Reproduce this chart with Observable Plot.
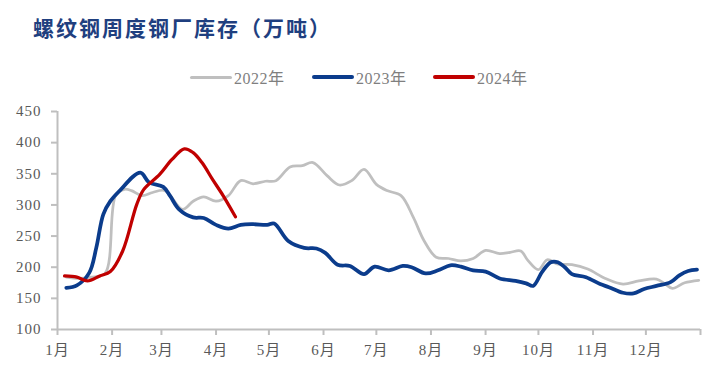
<!DOCTYPE html>
<html>
<head>
<meta charset="utf-8">
<script src="https://cdn.jsdelivr.net/npm/d3@7"></script>
<script src="https://cdn.jsdelivr.net/npm/@observablehq/plot@0.6"></script>
<style>
  html, body { margin: 0; padding: 0; background: #fff; }
  #wrap { position: relative; width: 719px; height: 389px; overflow: hidden; }
  #title { position: absolute; left: 33px; top: 17px; font-family: "Noto Sans CJK SC", sans-serif; font-weight: 700; font-size: 21px; line-height: 21px; letter-spacing: 2px; color: #1F3F7F; white-space: nowrap; }
  .leg { position: absolute; top: 68px; height: 18px; display: flex; align-items: center; font-family: "Liberation Serif", "Times New Roman", "DejaVu Serif", "Noto Sans CJK SC", serif; font-size: 16px; color: #7F7F7F; letter-spacing: 0.5px; white-space: nowrap; }
  .leg .sw { display: inline-block; width: 42px; border-radius: 2px; margin-right: 2px; }
  #chart { position: absolute; left: 0; top: 95px; }
  #chart [aria-label="x-axis tick"], #chart [aria-label="y-axis tick"] { stroke: #BFBFBF; stroke-width: 2px; }
  #chart [aria-label="x-axis tick label"], #chart [aria-label="y-axis tick label"] { fill: #595959; letter-spacing: 1px; }
</style>
</head>
<body>
<div id="wrap">
  <div id="title">螺纹钢周度钢厂库存（万吨）</div>
  <div class="leg" style="left:190px"><span class="sw" style="background:#BFBFBF;height:3px"></span>2022年</div>
  <div class="leg" style="left:312px"><span class="sw" style="background:#0B3C8C;height:4px"></span>2023年</div>
  <div class="leg" style="left:433px"><span class="sw" style="background:#C00000;height:4px"></span>2024年</div>
  <div id="chart"></div>
</div>
<script>
// ---- data (dates as MM-DD on a common year axis, values in 万吨) ----
const dates2022 = ["01-06","01-13","01-20","01-28","02-03","02-08","02-12","02-18","02-24","03-03","03-13","03-19","03-25","04-01","04-08","04-15","04-22","04-29","05-05","05-13","05-20","05-26","06-03","06-10","06-17","06-24","07-01","07-07","07-15","07-22","07-28","08-04","08-11","08-18","08-25","09-01","09-09","09-15","09-21","09-25","10-01","10-06","10-12","10-20","10-29","11-08","11-18","11-27","12-07","12-12","12-16","12-23","12-31"];
const values2022 = [184,182,184,190,315,325,323,315,320,323,293,306,313,306,315,339,334,338,339,361,363,368,347,332,339,357,333,323,315,280,243,216,214,210,214,227,222,224,226,211,196,212,205,204,197,182,173,178,181,173,166,175,179];

const dates2023 = ["01-06","01-12","01-19","01-23","01-27","01-31","02-05","02-17","02-22","03-02","03-06","03-11","03-19","03-25","04-01","04-08","04-15","04-22","04-30","05-04","05-12","05-21","05-28","06-02","06-09","06-16","06-24","06-30","07-08","07-16","07-21","07-29","08-05","08-12","08-18","08-25","09-01","09-09","09-18","09-24","09-28","10-03","10-08","10-12","10-16","10-20","10-28","11-05","11-10","11-18","11-24","11-30","12-07","12-15","12-20","12-25","12-30"];
const values2023 = [167,171,191,231,285,306,322,352,336,329,314,293,280,279,268,262,268,269,268,270,242,231,230,223,204,202,189,201,195,202,200,190,195,203,201,195,193,182,178,174,170,192,208,208,200,189,184,173,168,159,158,165,170,176,187,194,196];

const dates2024 = ["01-05","01-12","01-18","01-25","01-31","02-07","02-15","02-19","02-28","03-07","03-14","03-19","03-24","03-30","04-05","04-12"];
const values2024 = [186,184,178,186,193,226,301,325,349,373,390,384,368,341,315,281];

const seriesNames = ["2022年","2023年","2024年"];
const monthLabels = ["1月","2月","3月","4月","5月","6月","7月","8月","9月","10月","11月","12月"];
const yTicks = [100,150,200,250,300,350,400,450];

// ---- build rows ----
const parse = d3.utcParse("%Y-%m-%d");
const toRows = (dates, values, name) => dates.map((d, i) => ({date: parse("2023-" + d), value: values[i], series: name}));
const rows2022 = toRows(dates2022, values2022, seriesNames[0]);
const rows2023 = toRows(dates2023, values2023, seriesNames[1]);
const rows2024 = toRows(dates2024, values2024, seriesNames[2]);

const x0 = new Date(Date.UTC(2023, 0, 1));
const x1 = new Date(Date.UTC(2024, 0, 1));
const monthTicks = d3.utcMonth.range(x0, new Date(Date.UTC(2024, 0, 2)));

const chart = Plot.plot({
  width: 719,
  height: 270,
  marginTop: 16,
  marginBottom: 36,
  marginLeft: 57,
  marginRight: 19,
  style: {fontSize: "15px", fontFamily: "'Liberation Serif', 'Times New Roman', 'DejaVu Serif', 'Noto Sans CJK SC', serif", background: "transparent"},
  x: {type: "utc", domain: [x0, x1]},
  y: {domain: [100, 450]},
  marks: [
    Plot.axisY({ticks: yTicks, tickSize: 6, tickPadding: 10, label: null, tickFormat: d => String(d)}),
    Plot.axisX({ticks: monthTicks, tickSize: 6, tickPadding: 9, label: null,
      tickFormat: d => d.getUTCFullYear() === 2023 ? monthLabels[d.getUTCMonth()] : ""}),
    Plot.ruleX([x0], {y1: 100, y2: 450, stroke: "#BFBFBF", strokeWidth: 2}),
    Plot.ruleY([100], {stroke: "#BFBFBF", strokeWidth: 2}),
    Plot.line(rows2022, {x: "date", y: "value", stroke: "#BFBFBF", strokeWidth: 2.75, curve: "catmull-rom"}),
    Plot.line(rows2023, {x: "date", y: "value", stroke: "#0B3C8C", strokeWidth: 3.75, curve: "catmull-rom"}),
    Plot.line(rows2024, {x: "date", y: "value", stroke: "#C00000", strokeWidth: 3.25, curve: "catmull-rom"})
  ]
});
document.getElementById("chart").appendChild(chart);
</script>
</body>
</html>
